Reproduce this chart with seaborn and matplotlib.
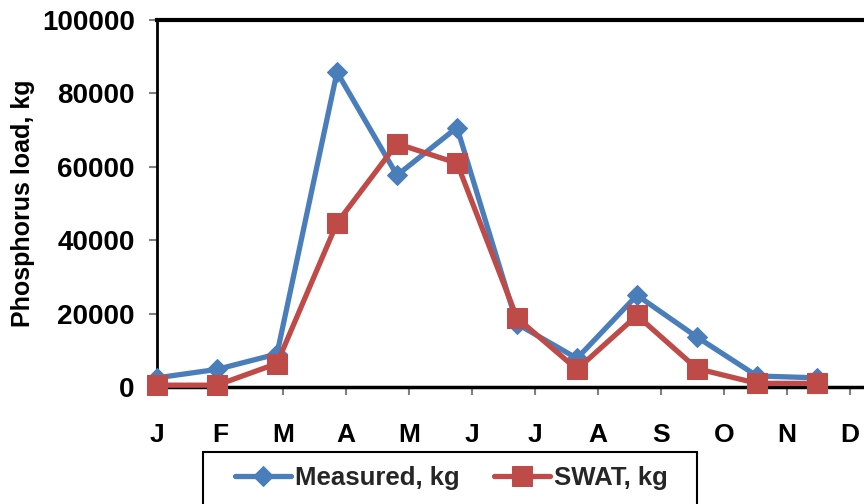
import numpy as np
import pandas as pd
import matplotlib
matplotlib.use("Agg")
import matplotlib.pyplot as plt
import matplotlib.patches as mpatches
import seaborn as sns

months = ["J", "F", "M", "A", "M", "J", "J", "A", "S", "O", "N", "D"]
measured = [2500, 4800, 9000, 85800, 57700, 70700, 17200, 7800, 25000, 13600, 3000, 2500]
swat = [500, 500, 6400, 44700, 66300, 61000, 18800, 4800, 19500, 5000, 1000, 1000]
yticks = [0, 20000, 40000, 60000, 80000, 100000]

# points are spaced slightly tighter than the month ticks in the original
spacing = 60.0 / 63.0
xpos = np.arange(len(months)) * spacing

df = pd.DataFrame({
    "x": np.concatenate([xpos, xpos]),
    "load": measured + swat,
    "series": ["Measured, kg"] * 12 + ["SWAT, kg"] * 12,
})

sns.set_theme(style="white")
plt.rcParams["font.family"] = ["Liberation Sans", "DejaVu Sans"]
plt.rcParams["font.weight"] = "bold"

fig = plt.figure(figsize=(8.64, 5.04), dpi=100)
ax = fig.add_axes([157 / 864, 1 - 387 / 504, 1 - 157 / 864, (387 - 20) / 504])

blue = "#4A7EBB"
red = "#BE4B48"

sns.lineplot(data=df[df.series == "Measured, kg"], x="x", y="load", ax=ax,
             color=blue, marker="D", markersize=10, linewidth=3.8,
             markeredgecolor=blue, label="Measured, kg", clip_on=False, zorder=3)
sns.lineplot(data=df[df.series == "SWAT, kg"], x="x", y="load", ax=ax,
             color=red, marker="s", markersize=14, linewidth=3.8,
             markeredgecolor=red, label="SWAT, kg", clip_on=False, zorder=4)

ax.set_xlim(0, (864 - 157) / 63)
ax.set_ylim(0, 100000)
ax.set_xticks(range(12))
ax.set_xticklabels(months)
ax.set_yticks(yticks)
ax.set_yticklabels([str(v) for v in yticks])

for lab in ax.get_xticklabels():
    lab.set_fontweight("bold")
    lab.set_fontsize(19)
    lab.set_color("black")
for lab in ax.get_yticklabels():
    lab.set_fontweight("bold")
    lab.set_fontsize(20)
    lab.set_color("black")

ax.tick_params(axis="x", direction="out", length=6, width=1.5, color="#808080", pad=20, bottom=True)
ax.tick_params(axis="y", direction="out", length=6, width=1.5, color="#808080", pad=10, left=True)

ax.set_xlabel("")
ax.set_ylabel("Phosphorus load, kg", fontsize=18, fontweight="bold", color="black", labelpad=5)

for s in ["left", "bottom", "top"]:
    ax.spines[s].set_visible(True)
    ax.spines[s].set_color("black")
ax.spines["left"].set_linewidth(2)
ax.spines["bottom"].set_linewidth(2.5)
ax.spines["top"].set_linewidth(3)
ax.spines["right"].set_visible(False)
ax.grid(False)

leg = ax.legend(loc="center left", bbox_to_anchor=(235 / 864, 1 - 478 / 504),
                bbox_transform=fig.transFigure, ncol=2, frameon=False,
                prop={"weight": "bold", "size": 18.5}, handlelength=2.18, columnspacing=1.36,
                borderpad=0, handletextpad=0.15, borderaxespad=0)

# legend frame (extends past the bottom edge as in the reference)
frame = mpatches.Rectangle((203 / 864, -0.01), (697 - 203) / 864, (504 - 452) / 504 + 0.01,
                           transform=fig.transFigure, fill=False, edgecolor="black",
                           linewidth=1.5, clip_on=False)
fig.patches.append(frame)

fig.savefig("out.png", dpi=100)
